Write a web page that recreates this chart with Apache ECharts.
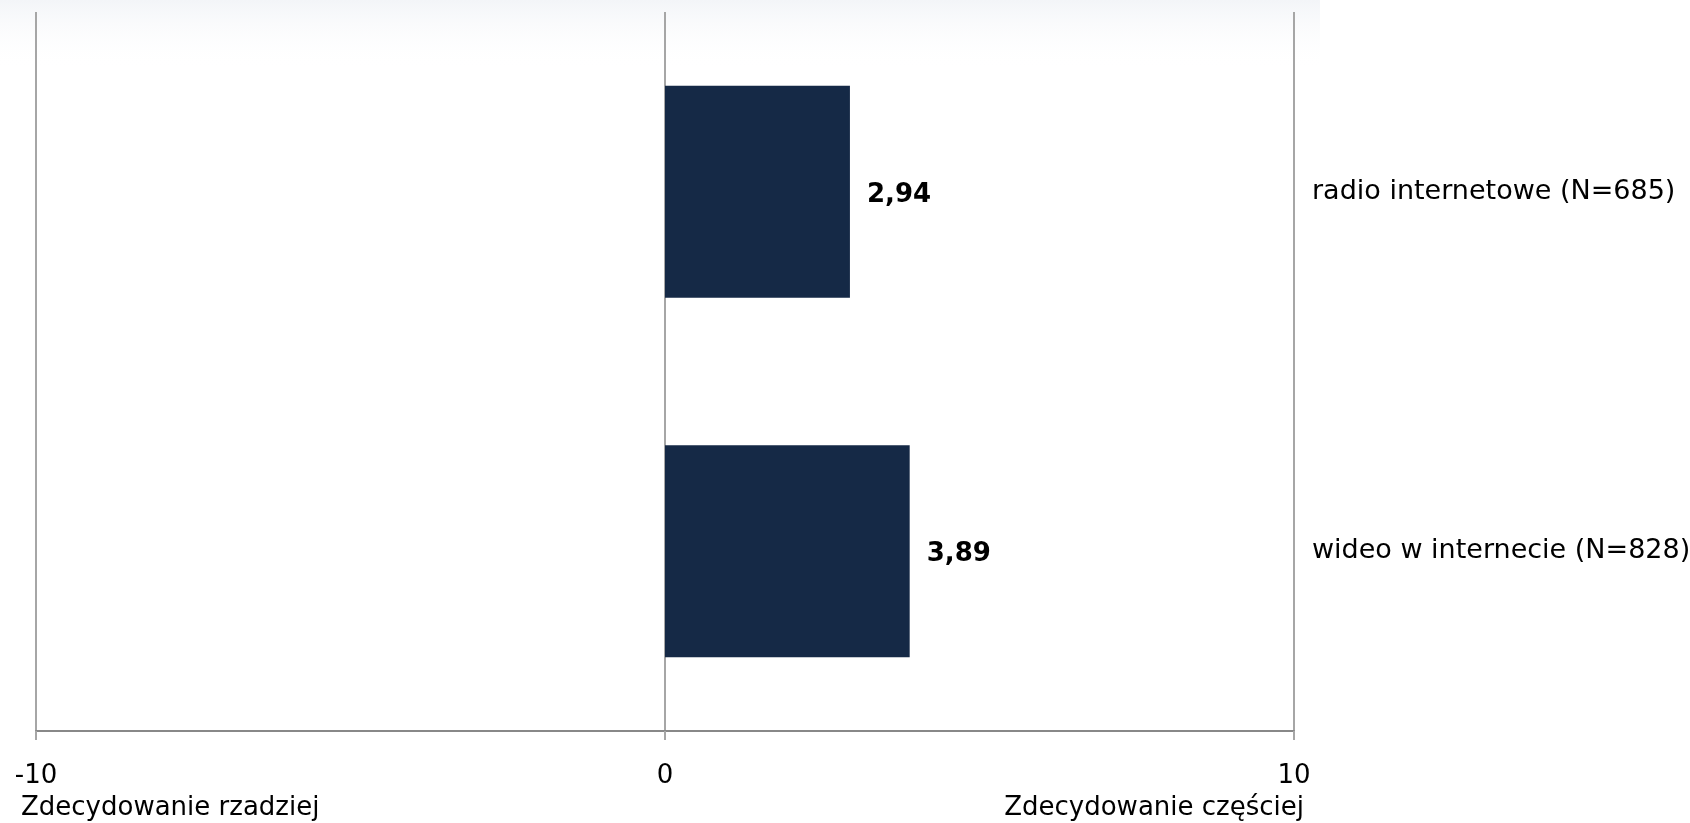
<!DOCTYPE html>
<html>
<head>
<meta charset="utf-8">
<script src="https://cdn.jsdelivr.net/npm/echarts@6/dist/echarts.min.js"></script>
<style>
  html, body { margin: 0; padding: 0; background: #fff; }
  #chart { width: 1690px; height: 823px; }
</style>
</head>
<body>
<div id="chart"></div>
<script>
var categories = ["radio internetowe (N=685)", "wideo w internecie (N=828)"];
var values = [2.94, 3.89];
var axisMin = -10;
var axisMax = 10;
var axisStep = 10;
var leftCaption = "Zdecydowanie rzadziej";
var rightCaption = "Zdecydowanie częściej";

var FONT = "DejaVu Sans";
var chart = echarts.init(document.getElementById("chart"));

chart.setOption({
  backgroundColor: "#fff",
  animation: false,
  textStyle: { fontFamily: FONT },
  grid: {
    left: 36, right: 396, top: 12, bottom: 92,
    containLabel: false, outerBoundsMode: "none"
  },
  xAxis: {
    type: "value",
    min: axisMin,
    max: axisMax,
    interval: axisStep,
    axisLine: { show: true, onZero: false, lineStyle: { color: "#888", width: 2 } },
    axisTick: { show: true, length: 9, lineStyle: { color: "#a6a6a6", width: 2 } },
    splitLine: { show: true, lineStyle: { color: "#a6a6a6", width: 2 } },
    axisLabel: { color: "#000", fontSize: 26, margin: 32, fontFamily: FONT }
  },
  yAxis: {
    type: "category",
    data: categories,
    inverse: true,
    position: "right",
    axisLine: { show: false },
    axisTick: { show: false },
    splitLine: { show: false },
    axisLabel: {
      color: "#000", fontSize: 27, margin: 18, align: "left",
      fontFamily: FONT, padding: [7, 0, 0, 0]
    }
  },
  graphic: [
    {
      type: "rect",
      left: 0, top: 0, z: -10,
      shape: { width: 1320, height: 70 },
      style: {
        fill: new echarts.graphic.LinearGradient(0, 0, 0, 1, [
          { offset: 0, color: "#f3f5f8" },
          { offset: 1, color: "rgba(255,255,255,0)" }
        ])
      }
    },
    {
      type: "text",
      left: 21, top: 795,
      style: { text: leftCaption, fill: "#000", font: "26px " + FONT }
    },
    {
      type: "text",
      right: 1690 - 1304, top: 795,
      style: { text: rightCaption, fill: "#000", font: "26px " + FONT }
    }
  ],
  series: [{
    type: "bar",
    data: values,
    barCategoryGap: "41%",
    itemStyle: { color: "#152946" },
    label: {
      show: true,
      position: "right",
      distance: 17,
      offset: [0, 3],
      color: "#000",
      fontWeight: "bold",
      fontSize: 26,
      fontFamily: FONT,
      formatter: function (p) { return p.value.toFixed(2).replace(".", ","); }
    }
  }]
});
</script>
</body>
</html>
